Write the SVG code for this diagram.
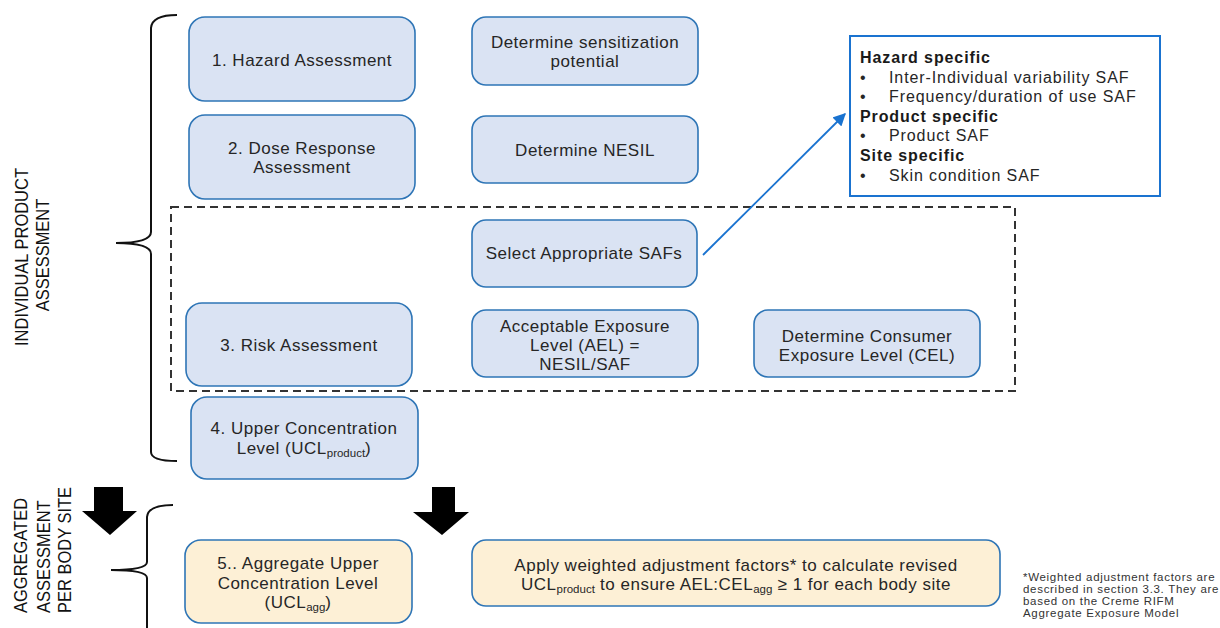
<svg xmlns="http://www.w3.org/2000/svg" width="1220" height="628" viewBox="0 0 1220 628">
  <defs>
    <style>
      .box { fill: #dae3f3; stroke: #2e75b6; stroke-width: 1.6; }
      .agg { fill: #fdf0d6; stroke: #2e75b6; stroke-width: 1.6; }
      .t { font-family: "Liberation Sans", Arial, sans-serif; font-size: 17px; letter-spacing: 0.5px; fill: #262626; text-anchor: middle; }
      .sub { font-size: 11.5px; letter-spacing: 0; }
      .side { font-family: "Liberation Sans", Arial, sans-serif; font-size: 16.5px; fill: #111; }
      .saf { font-family: "Liberation Sans", Arial, sans-serif; font-size: 16px; letter-spacing: 0.9px; fill: #262626; }
      .safb { font-weight: bold; fill: #1a1a1a; }
      .note { font-family: "Liberation Sans", Arial, sans-serif; font-size: 11.5px; letter-spacing: 0.7px; fill: #333; }
      .brace { fill: none; stroke: #111; stroke-width: 2; }
    </style>
    <marker id="head" viewBox="0 0 10 10" refX="9" refY="5" markerWidth="7" markerHeight="7" orient="auto">
      <path d="M0,0 L10,5 L0,10 z" fill="#1a73d0"/>
    </marker>
  </defs>

  <rect width="1220" height="628" fill="#fff"/>

  <!-- side labels (rotated, slightly widened glyphs) -->
  <g id="label-individual">
    <text class="side" transform="translate(28,257) rotate(-90) scale(1,1.12)" text-anchor="middle">INDIVIDUAL  PRODUCT</text>
    <text class="side" transform="translate(49,255) rotate(-90) scale(1,1.12)" text-anchor="middle">ASSESSMENT</text>
  </g>
  <g id="label-aggregated">
    <text class="side" transform="translate(27,613) rotate(-90) scale(1,1.12)">AGGREGATED</text>
    <text class="side" transform="translate(50,613) rotate(-90) scale(1,1.12)">ASSESSMENT</text>
    <text class="side" transform="translate(71,613) rotate(-90) scale(1,1.12)">PER BODY SITE</text>
  </g>

  <!-- braces -->
  <g id="braces">
    <path class="brace" d="M177,15 Q152,15 151,28 L151,232 Q151,243 116,243 Q151,243 151,254 L151,452 Q151,461 177,461"/>
    <path class="brace" d="M173,505 Q148,505 147,517 L147,562 Q147,570 111,570 Q147,570 147,578 L147,628"/>
  </g>

  <!-- dashed grouping frame -->
  <rect id="risk-frame" x="171" y="207" width="844" height="184" fill="none" stroke="#333" stroke-width="2" stroke-dasharray="8,5"/>

  <!-- nodes -->
  <g id="hazard">
    <rect class="box" x="189" y="17" width="226" height="84" rx="16"/>
    <text class="t" x="302" y="66">1. Hazard Assessment</text>
  </g>
  <g id="sensitization">
    <rect class="box" x="472" y="17" width="226" height="68" rx="14"/>
    <text class="t" x="585" y="48">Determine  sensitization</text>
    <text class="t" x="585" y="67">potential</text>
  </g>
  <g id="dose-response">
    <rect class="box" x="189" y="115" width="226" height="84" rx="16"/>
    <text class="t" x="302" y="154">2. Dose Response</text>
    <text class="t" x="302" y="173">Assessment</text>
  </g>
  <g id="nesil">
    <rect class="box" x="472" y="116" width="226" height="67" rx="14"/>
    <text class="t" x="585" y="156">Determine  NESIL</text>
  </g>
  <g id="select-safs">
    <rect class="box" x="472" y="220" width="225" height="67" rx="14"/>
    <text class="t" x="584" y="259">Select Appropriate  SAFs</text>
  </g>
  <g id="risk">
    <rect class="box" x="186" y="303" width="226" height="83" rx="16"/>
    <text class="t" x="299" y="351">3. Risk Assessment</text>
  </g>
  <g id="ael">
    <rect class="box" x="472" y="310" width="226" height="67" rx="14"/>
    <text class="t" x="585" y="332">Acceptable  Exposure</text>
    <text class="t" x="585" y="351">Level (AEL) =</text>
    <text class="t" x="585" y="370">NESIL/SAF</text>
  </g>
  <g id="cel">
    <rect class="box" x="754" y="310" width="226" height="67" rx="14"/>
    <text class="t" x="867" y="342">Determine Consumer</text>
    <text class="t" x="867" y="361">Exposure  Level (CEL)</text>
  </g>
  <g id="ucl-product">
    <rect class="box" x="191" y="397" width="227" height="82" rx="16"/>
    <text class="t" x="304" y="434">4. Upper  Concentration</text>
    <text class="t" x="304" y="454">Level (UCL<tspan class="sub" dy="3">product</tspan><tspan dy="-3">)</tspan></text>
  </g>
  <g id="ucl-agg">
    <rect class="agg" x="185" y="540" width="227" height="83" rx="16"/>
    <text class="t" x="298" y="569">5.. Aggregate  Upper</text>
    <text class="t" x="298" y="589">Concentration  Level</text>
    <text class="t" x="298" y="608">(UCL<tspan class="sub" dy="3">agg</tspan><tspan dy="-3">)</tspan></text>
  </g>
  <g id="adjust">
    <rect class="agg" x="472" y="540" width="528" height="66" rx="14"/>
    <text class="t" x="736" y="571">Apply  weighted  adjustment  factors* to calculate  revised</text>
    <text class="t" x="736" y="590">UCL<tspan class="sub" dy="3">product</tspan><tspan dy="-3"> to ensure AEL:CEL</tspan><tspan class="sub" dy="3">agg</tspan><tspan dy="-3"> ≥ 1 for each body  site</tspan></text>
  </g>
  <g id="saf-types">
    <rect x="850" y="36" width="310" height="160" fill="#fff" stroke="#1a73d0" stroke-width="2"/>
    <text class="saf safb" x="860" y="63">Hazard specific</text>
    <text class="saf" x="860" y="83">•</text>
    <text class="saf" x="889" y="83">Inter-Individual  variability  SAF</text>
    <text class="saf" x="860" y="102">•</text>
    <text class="saf" x="889" y="102">Frequency/duration  of use SAF</text>
    <text class="saf safb" x="860" y="122">Product specific</text>
    <text class="saf" x="860" y="141">•</text>
    <text class="saf" x="889" y="141">Product  SAF</text>
    <text class="saf safb" x="860" y="161">Site specific</text>
    <text class="saf" x="860" y="181">•</text>
    <text class="saf" x="889" y="181">Skin condition  SAF</text>
  </g>
  <g id="footnote">
    <text class="note" x="1023" y="581">*Weighted adjustment  factors are</text>
    <text class="note" x="1023" y="593">described in section 3.3.  They are</text>
    <text class="note" x="1023" y="605">based on the Creme RIFM</text>
    <text class="note" x="1023" y="617">Aggregate Exposure Model</text>
  </g>

  <!-- connectors -->
  <g id="connectors">
    <line x1="703" y1="255" x2="845" y2="114" stroke="#1a73d0" stroke-width="1.8" marker-end="url(#head)"/>
    <path d="M94,487 L123,487 L123,511 L137,511 L110,535 L82,511 L94,511 z" fill="#000"/>
    <path d="M432,487 L455,487 L455,512 L469,512 L442,535 L413,512 L432,512 z" fill="#000"/>
  </g>
</svg>
